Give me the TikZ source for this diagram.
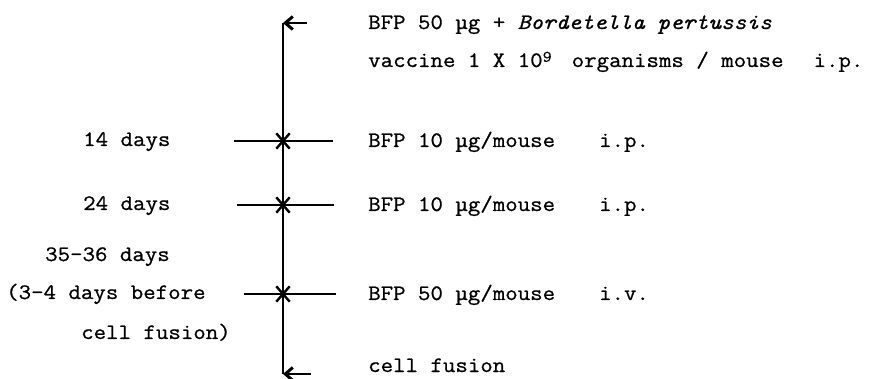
\documentclass[tikz,border=0pt]{standalone}
\usepackage{fontspec}
\setmainfont{Latin Modern Mono}[FakeStretch=1.1,FakeBold=0.8]
\setmonofont{Latin Modern Mono}[FakeStretch=1.1,FakeBold=0.8]
\usetikzlibrary{arrows.meta,shapes.misc}
\begin{document}
\begin{tikzpicture}[x=1pt,y=-1pt,
  txt/.style={anchor=base west, inner sep=0pt, font=\fontsize{22}{26}\selectfont},
  axisline/.style={line width=1.2pt},
  tickline/.style={line width=2pt},
  arr/.style={line width=2.8pt,-{Straight Barb[length=7.5pt,width=13pt,line width=3pt]}},
  xmark/.style={cross out,draw,line width=2.4pt,minimum width=11pt,minimum height=13pt,inner sep=0pt}
]
\useasboundingbox (0,0) rectangle (873,379);
% axis
\coordinate (top) at (283,23);
\coordinate (bot) at (283,374);
\coordinate (toptail) at (307,23);
\coordinate (bottail) at (311,374);
\draw[axisline] (top) -- (bot);
\draw[arr] (toptail) -- (top);
\draw[arr] (bottail) -- (bot);
% ticks
\coordinate (l1) at (234,141); \coordinate (r1) at (333,141);
\coordinate (l2) at (237,205); \coordinate (r2) at (334,205);
\coordinate (l3) at (244,294); \coordinate (r3) at (336,294);
\draw[tickline] (l1) -- (r1);
\draw[tickline] (l2) -- (r2);
\draw[tickline] (l3) -- (r3);
\node[xmark] (x1) at (283,141) {};
\node[xmark] (x2) at (283,205) {};
\node[xmark] (x3) at (283,294) {};
% right texts
\node[txt] (n0) at (368,29) {BFP 50 µg + \textit{Bordetella pertussis}};
\node[txt] (n1) at (368,67) {vaccine 1 X 10\raisebox{0.55ex}{\fontsize{16}{16}\selectfont 9}\hspace*{20pt}organisms / mouse\hspace*{30pt}i.p.};
\node[txt] (n14) at (368,147) {BFP 10 µg/mouse\hspace*{44pt}i.p.};
\node[txt] (n24) at (368,211) {BFP 10 µg/mouse\hspace*{44pt}i.p.};
\node[txt] (n35) at (368,300) {BFP 50 µg/mouse\hspace*{44pt}i.v.};
\node[txt] (ncf) at (368,372) {cell fusion};
% left texts
\node[txt] (d14) at (83,146) {14 days};
\node[txt] (d24) at (83,210) {24 days};
\node[txt] (d35) at (45,261) {35-36 days};
\node[txt] (d34) at (6,299) {(3-4 days before};
\node[txt] (dcf) at (81,339) {cell fusion)};
\end{tikzpicture}
\end{document}
